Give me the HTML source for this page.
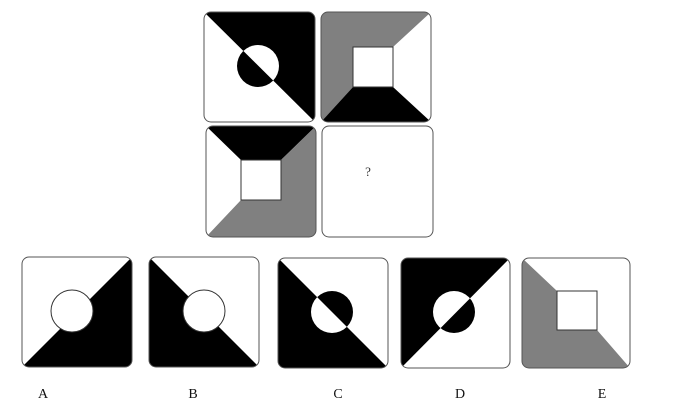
<!DOCTYPE html>
<html><head><style>html,body{margin:0;padding:0;background:#fff;width:678px;height:407px;overflow:hidden}</style></head>
<body>
<svg width="678" height="407" viewBox="0 0 678 407" xmlns="http://www.w3.org/2000/svg" font-family="Liberation Serif, serif">
<defs>
<clipPath id="c1"><rect x="204" y="12" width="111" height="110" rx="7"/></clipPath>
<clipPath id="c2"><rect x="321" y="12" width="110" height="110" rx="7"/></clipPath>
<clipPath id="c3"><rect x="206" y="126" width="110" height="111" rx="7"/></clipPath>
<clipPath id="cA"><rect x="22" y="257" width="110" height="110" rx="7"/></clipPath>
<clipPath id="cB"><rect x="149" y="257" width="110" height="110" rx="7"/></clipPath>
<clipPath id="cC"><rect x="278" y="258" width="110" height="110" rx="7"/></clipPath>
<clipPath id="cD"><rect x="401" y="258" width="109" height="110" rx="7"/></clipPath>
<clipPath id="cE"><rect x="522" y="258" width="108" height="110" rx="7"/></clipPath>
<clipPath id="h1"><polygon points="204,12 315,122 315,12"/></clipPath>
<clipPath id="hC"><polygon points="278,258 388,368 388,258"/></clipPath>
<clipPath id="hD"><polygon points="401,258 510,258 401,368"/></clipPath>
</defs>

<!-- tile 1 -->
<g clip-path="url(#c1)">
<rect x="204" y="12" width="111" height="110" fill="#fff"/>
<polygon points="204,12 315,122 315,12" fill="#000"/>
<circle cx="258" cy="66" r="21" fill="#000"/>
<circle cx="258" cy="66" r="21" fill="#fff" clip-path="url(#h1)"/>
</g>
<rect x="204" y="12" width="111" height="110" rx="7" fill="none" stroke="#555" stroke-width="1"/>

<!-- tile 2 -->
<g clip-path="url(#c2)">
<rect x="321" y="12" width="110" height="110" fill="#fff"/>
<polygon points="321,12 431,12 393,47 353,47 353,87 321,122" fill="#808080"/>
<polygon points="321,122 353,87 393,87 431,122" fill="#000"/>
<rect x="353" y="47" width="40" height="40" fill="#fff" stroke="#333"/>
</g>
<rect x="321" y="12" width="110" height="110" rx="7" fill="none" stroke="#555"/>

<!-- tile 3 -->
<g clip-path="url(#c3)">
<rect x="206" y="126" width="110" height="111" fill="#fff"/>
<polygon points="206,126 316,126 281,160 241,160" fill="#000"/>
<polygon points="316,126 316,237 206,237 241,200 281,200 281,160" fill="#808080"/>
<rect x="241" y="160" width="40" height="40" fill="#fff" stroke="#333"/>
</g>
<rect x="206" y="126" width="110" height="111" rx="7" fill="none" stroke="#555"/>

<!-- tile 4 -->
<rect x="322" y="126" width="111" height="111" rx="7" fill="#fff" stroke="#555"/>
<text x="368" y="176" font-size="13" text-anchor="middle" fill="#333">?</text>

<!-- A -->
<g clip-path="url(#cA)">
<rect x="22" y="257" width="110" height="110" fill="#fff"/>
<polygon points="22,367 132,257 132,367" fill="#000"/>
<circle cx="72" cy="311" r="21" fill="#fff" stroke="#333"/>
</g>
<rect x="22" y="257" width="110" height="110" rx="7" fill="none" stroke="#555"/>

<!-- B -->
<g clip-path="url(#cB)">
<rect x="149" y="257" width="110" height="110" fill="#fff"/>
<polygon points="149,257 259,367 149,367" fill="#000"/>
<circle cx="204" cy="311" r="21" fill="#fff" stroke="#333"/>
</g>
<rect x="149" y="257" width="110" height="110" rx="7" fill="none" stroke="#555"/>

<!-- C -->
<g clip-path="url(#cC)">
<rect x="278" y="258" width="110" height="110" fill="#fff"/>
<polygon points="278,258 388,368 278,368" fill="#000"/>
<circle cx="332" cy="312" r="21" fill="#fff"/>
<circle cx="332" cy="312" r="21" fill="#000" clip-path="url(#hC)"/>
</g>
<rect x="278" y="258" width="110" height="110" rx="7" fill="none" stroke="#555"/>

<!-- D -->
<g clip-path="url(#cD)">
<rect x="401" y="258" width="109" height="110" fill="#fff"/>
<polygon points="401,258 510,258 401,368" fill="#000"/>
<circle cx="454" cy="312" r="21" fill="#000"/>
<circle cx="454" cy="312" r="21" fill="#fff" clip-path="url(#hD)"/>
</g>
<rect x="401" y="258" width="109" height="110" rx="7" fill="none" stroke="#555"/>

<!-- E -->
<g clip-path="url(#cE)">
<rect x="522" y="258" width="108" height="110" fill="#fff"/>
<polygon points="522,258 557,291 557,330 597,330 630,368 522,368" fill="#808080"/>
<rect x="557" y="291" width="40" height="39" fill="#fff" stroke="#333"/>
</g>
<rect x="522" y="258" width="108" height="110" rx="7" fill="none" stroke="#555"/>

<g font-size="14" fill="#111" text-anchor="middle">
<text x="43" y="398">A</text>
<text x="193" y="398">B</text>
<text x="338" y="398">C</text>
<text x="460" y="398">D</text>
<text x="602" y="398">E</text>
</g>
</svg>
</body></html>
